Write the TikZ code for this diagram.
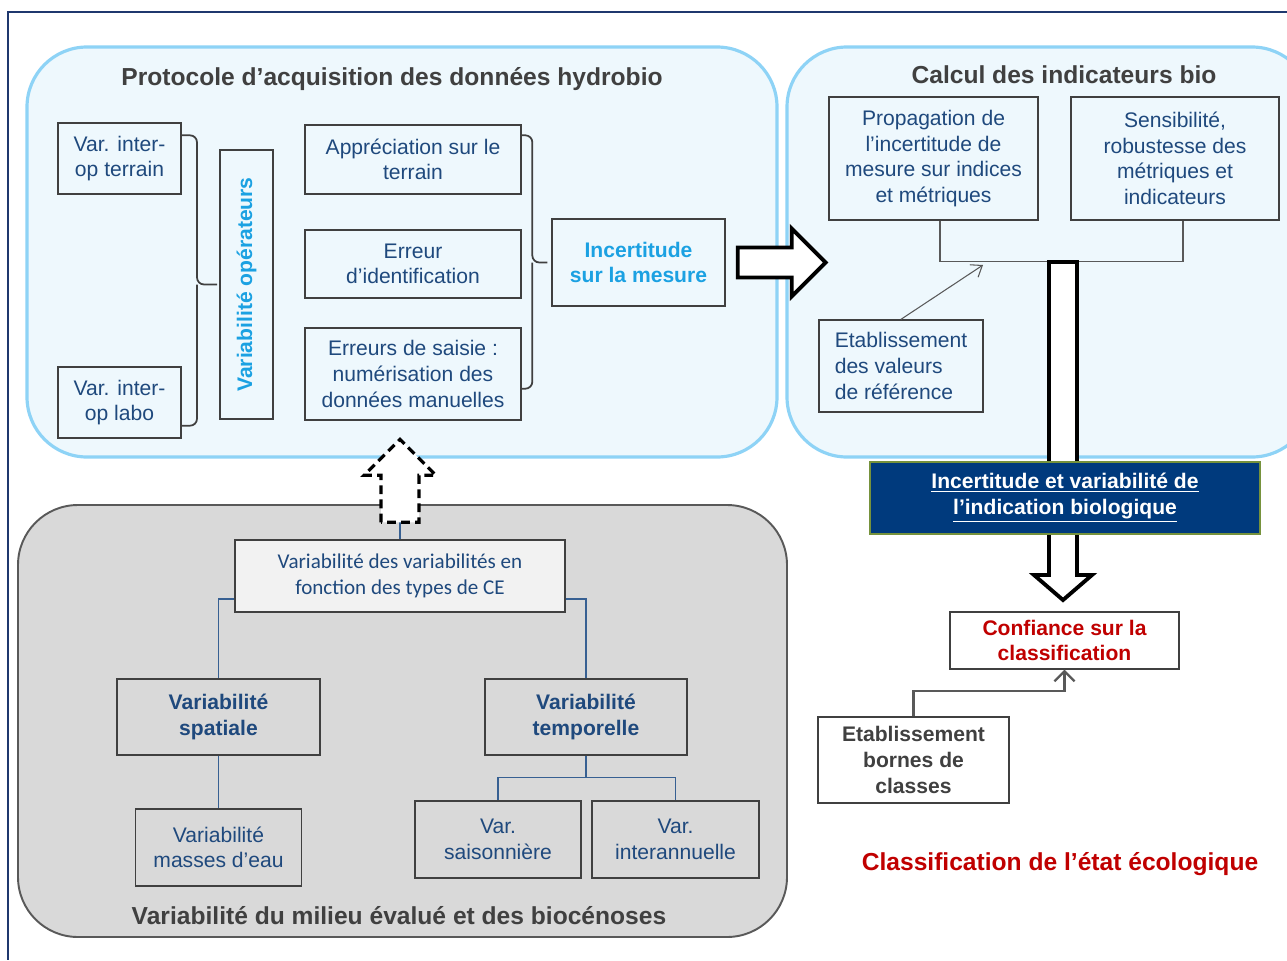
\documentclass[tikz,border=0pt]{standalone}
\usepackage{fontspec}
\setmainfont{Liberation Sans}
\newfontfamily\calibri{Carlito}
\usetikzlibrary{arrows.meta, positioning}

\definecolor{bleuTexte}{RGB}{31,73,125}
\definecolor{cyanTexte}{RGB}{27,161,226}
\definecolor{bleuClair}{RGB}{142,211,246}
\definecolor{fondBleu}{RGB}{238,248,253}
\definecolor{grisFond}{RGB}{217,217,217}
\definecolor{grisClair}{RGB}{242,242,242}
\definecolor{grisTrait}{RGB}{89,89,89}
\definecolor{grisTitre}{RGB}{64,64,64}
\definecolor{marine}{RGB}{0,58,125}
\definecolor{olive}{RGB}{118,146,60}
\definecolor{rouge}{RGB}{192,0,0}
\definecolor{cadreBleu}{RGB}{31,56,110}
\definecolor{lienBleu}{RGB}{55,96,146}

\newcommand{\taille}{\fontsize{12}{14.6}\selectfont}

\begin{document}
\begin{tikzpicture}[x=0.02cm, y=-0.02cm]
  % Define styles for the zones and boxes
  \tikzstyle{zoneBleue}=[draw=bleuClair, line width=1.8pt, fill=fondBleu, rounded corners=1.2cm]
  \tikzstyle{zoneGrise}=[draw=grisTrait, line width=1.1pt, fill=grisFond, rounded corners=1.2cm]
  \tikzstyle{titre}=[font=\fontsize{14}{17}\selectfont\bfseries, text=grisTitre, inner sep=0pt]
  \tikzstyle{boite}=[draw=grisTitre, line width=0.8pt, fill=fondBleu, text=bleuTexte, font=\taille, align=center, inner sep=2pt]
  \tikzstyle{boiteBlanche}=[boite, fill=white]
  \tikzstyle{boiteGrise}=[boite, fill=grisFond]
  \tikzstyle{accolade}=[draw=grisTitre, line width=1pt, rounded corners=4pt]
  \tikzstyle{grosseFleche}=[draw=black, line width=2.2pt, fill=white, line join=miter]
  \tikzstyle{lienC}=[draw=lienBleu, line width=0.8pt]

  \useasboundingbox (0,0) rectangle (1287,960);

  % Outer frame
  \draw[cadreBleu, line width=1.1pt] (1287,12) -- (8,12) -- (8,960);

  % Zones
  \draw[zoneBleue] (27,47) rectangle (777,457);
  \begin{scope}
    \clip (0,0) rectangle (1287,960);
    \draw[zoneBleue] (787,47) rectangle (1312,457);
  \end{scope}
  \draw[zoneGrise] (18,505) rectangle (787,937);

  % Titles
  \node[titre] (tProtocole) at (392,79) {Protocole d’acquisition des données hydrobio};
  \node[titre] (tCalcul) at (1064,75) {Calcul des indicateurs bio};
  \node[titre] (tMilieu) at (399,916) {Variabilité du milieu évalué et des biocénoses};
  \node[titre, text=rouge] (tClassif) at (1060,864) {Classification de l’état écologique};

  % Acquisition protocol
  \node[boite, minimum width=2.46cm, minimum height=1.42cm] (varTerrain) at (119.5,158.5) {Var. inter-\\op terrain};
  \node[boite, minimum width=2.46cm, minimum height=1.42cm] (varLabo) at (119.5,402.5) {Var. inter-\\op labo};
  \node[boite, rotate=90, minimum width=5.38cm, minimum height=1.06cm, text=cyanTexte, font=\taille\bfseries] (varOper) at (246.5,284.5) {Variabilité opérateurs};
  \node[boite, minimum width=4.32cm, minimum height=1.38cm] (apprec) at (413,159.5) {Appréciation sur le\\terrain};
  \node[boite, minimum width=4.32cm, minimum height=1.36cm] (identif) at (413,264) {Erreur\\d’identification};
  \node[boite, minimum width=4.32cm, minimum height=1.84cm] (saisie) at (413,374) {Erreurs de saisie :\\numérisation des\\données manuelles};
  \node[boite, minimum width=3.46cm, minimum height=1.74cm, text=cyanTexte, font=\taille\bfseries] (incertMesure) at (638.5,262.5) {Incertitude\\sur la mesure};

  % Braces
  \draw[accolade] ([yshift=-0.26cm]varTerrain.north east) -| ([xshift=-0.99cm]varOper.center) -- ([xshift=-0.59cm]varOper.center);
  \draw[accolade] ([yshift=0.26cm]varLabo.south east) -| ([xshift=-0.99cm]varOper.center);
  \draw[accolade] ([yshift=-0.22cm]apprec.north east) -| ([xshift=-0.38cm]incertMesure.west) -- ([xshift=-0.08cm]incertMesure.west);
  \draw[accolade] ([yshift=0.64cm]saisie.south east) -| ([xshift=-0.38cm]incertMesure.west);

  % Big arrow to the indicators
  \draw[grosseFleche] ([xshift=0.24cm]incertMesure.east) ++(0,-15) -- ++(54,0) -- ++(0,-19) -- ++(34,34) -- ++(-34,34) -- ++(0,-19) -- ++(-54,0) -- cycle;

  % Indicators
  \node[boite, minimum width=4.18cm, minimum height=2.46cm] (propag) at (933.5,158.5) {Propagation de\\l’incertitude de\\mesure sur indices\\et métriques};
  \node[boite, minimum width=4.16cm, minimum height=2.46cm] (sensib) at (1175,158.5) {Sensibilité,\\robustesse des\\métriques et\\indicateurs};
  \node[boite, align=left, minimum width=3.28cm, minimum height=1.84cm] (valRef) at (901,366) {Etablissement\\des valeurs\\de référence};
  \coordinate (jonction) at (1063,262);
  \coordinate (cibleRef) at (983,265);

  \draw[draw=grisTrait, line width=0.9pt] ([xshift=0.13cm]propag.south) -- ++(0,41) -| ([xshift=0.16cm]sensib.south);
  \draw[draw=grisTrait, line width=0.6pt, -{Straight Barb[length=2mm, width=3mm]}] (valRef.north) -- (cibleRef);

  % Arrow down to the classification
  \draw[grosseFleche] (jonction) ++(-14,0) -- ++(28,0) -- ++(0,313) -- ++(15,0) -- ++(-29,25) -- ++(-29,-25) -- ++(15,0) -- cycle;

  \node[draw=olive, line width=0.8pt, fill=marine, text=white, font=\taille\bfseries, align=center, minimum width=7.8cm, minimum height=1.44cm] (indicBio) at (1065,498) {\underline{Incertitude et variabilité de}\\\underline{l’indication biologique}};

  % Classification
  \node[boiteBlanche, minimum width=4.58cm, minimum height=1.14cm, text=rouge, font=\taille\bfseries] (confiance) at (1064.5,640.5) {Confiance sur la\\classification};
  \node[boiteBlanche, minimum width=3.82cm, minimum height=1.72cm, text=grisTitre, font=\taille\bfseries] (bornes) at (913.5,760) {Etablissement\\bornes de\\classes};
  \draw[draw=grisTrait, line width=1.3pt, -{Straight Barb[length=2mm, width=4mm]}] (bornes.north) -- ++(0,-25) -| (confiance.south);

  % Variability of the environment
  \node[boite, fill=grisClair, font=\calibri\taille, minimum width=6.6cm, minimum height=1.44cm] (varVar) at (400,576) {Variabilité des variabilités en\\fonction des types de CE};
  \node[boiteGrise, font=\taille\bfseries, minimum width=4.06cm, minimum height=1.52cm] (spatiale) at (218.5,717) {Variabilité\\spatiale};
  \node[boiteGrise, font=\taille\bfseries, minimum width=4.04cm, minimum height=1.52cm] (temporelle) at (586,717) {Variabilité\\temporelle};
  \node[boiteGrise, minimum width=3.32cm, minimum height=1.54cm] (masses) at (218.5,847.5) {Variabilité\\masses d’eau};
  \node[boiteGrise, minimum width=3.32cm, minimum height=1.54cm] (saison) at (498,839.5) {Var.\\saisonnière};
  \node[boiteGrise, minimum width=3.34cm, minimum height=1.54cm] (interann) at (675.5,839.5) {Var.\\interannuelle};

  \draw[lienC] ([yshift=-0.46cm]varVar.west) -| (spatiale.north);
  \draw[lienC] ([yshift=-0.46cm]varVar.east) -| (temporelle.north);
  \draw[lienC] (spatiale.south) -- (masses.north);
  \draw[lienC] (temporelle.south) -- ++(0,22) -| (saison.north);
  \draw[lienC] (temporelle.south) ++(0,22) -| (interann.north);
  \draw[lienC] (varVar.north) -- ++(0,-17);

  % Dashed arrow up to the protocol
  \draw[grosseFleche, line width=1.8pt, dash pattern=on 5pt off 3pt] ([yshift=0.34cm]varVar.north) ++(-19,0) -- ++(0,-47) -- ++(-17,0) -- ++(36,-36) -- ++(36,36) -- ++(-17,0) -- ++(0,47) -- cycle;
\end{tikzpicture}
\end{document}
